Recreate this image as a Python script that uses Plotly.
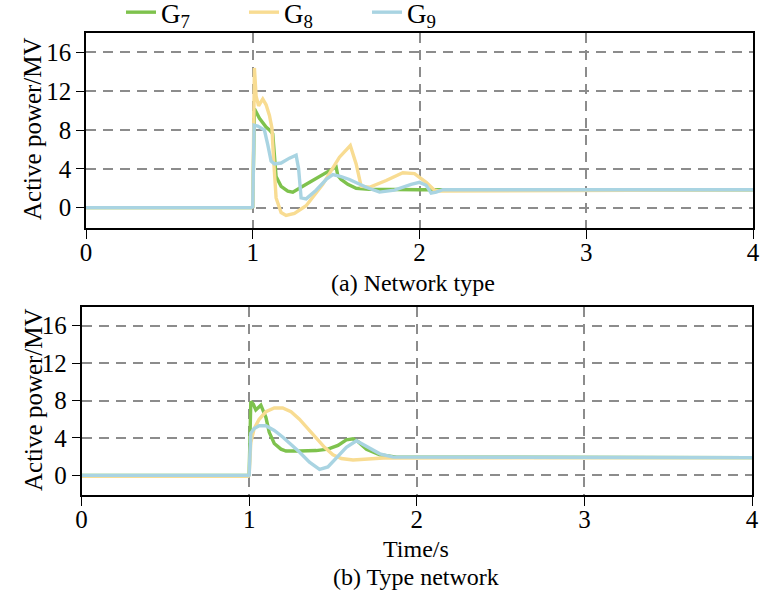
import plotly.graph_objects as go

# ---------------- data ----------------
# (a) Network type
a_g7_t = [0, 0.99, 1.0, 1.01, 1.04, 1.08, 1.10, 1.12, 1.14, 1.17, 1.21, 1.24, 1.30, 1.38, 1.45, 1.50, 1.51, 1.53, 1.57, 1.62, 1.70, 2.0, 4.0]
a_g7_v = [0, 0, 0.1, 10.2, 9.2, 8.3, 8.0, 7.6, 3.2, 2.2, 1.7, 1.6, 2.2, 3.0, 3.7, 4.2, 3.3, 2.9, 2.4, 2.0, 1.9, 1.85, 1.85]

a_g8_t = [0, 0.99, 1.0, 1.005, 1.01, 1.02, 1.035, 1.06, 1.08, 1.10, 1.115, 1.125, 1.14, 1.17, 1.20, 1.25, 1.32, 1.42, 1.52, 1.585, 1.62, 1.65, 1.70, 1.80, 1.90, 1.97, 2.04, 2.09, 2.12, 4.0]
a_g8_v = [0, 0, 0.1, 8.8, 14.4, 11.5, 10.5, 11.2, 10.6, 9.5, 8.2, 5.0, 1.0, -0.5, -0.8, -0.6, 0.2, 2.4, 5.2, 6.4, 4.5, 2.2, 2.1, 2.8, 3.6, 3.5, 2.6, 1.8, 1.7, 1.85]

a_g9_t = [0, 0.99, 1.0, 1.008, 1.03, 1.07, 1.09, 1.11, 1.13, 1.17, 1.22, 1.26, 1.275, 1.29, 1.32, 1.38, 1.44, 1.48, 1.53, 1.58, 1.68, 1.76, 1.85, 1.95, 2.0, 2.04, 2.07, 2.10, 2.14, 4.0]
a_g9_v = [0, 0, 0.1, 8.5, 8.4, 8.0, 6.5, 4.8, 4.5, 4.6, 5.1, 5.4, 4.0, 1.0, 0.9, 1.8, 2.9, 3.4, 3.2, 2.9, 2.1, 1.6, 1.8, 2.4, 2.6, 2.3, 1.5, 1.6, 1.85, 1.85]

# (b) Type network
b_g7_t = [0, 0.995, 1.0, 1.01, 1.025, 1.04, 1.07, 1.086, 1.10, 1.12, 1.15, 1.19, 1.22, 1.30, 1.40, 1.47, 1.53, 1.58, 1.62, 1.65, 1.70, 1.78, 1.88, 4.0]
b_g7_v = [0, 0, 0.1, 7.9, 7.6, 7.0, 7.5, 6.8, 6.2, 4.6, 3.4, 2.8, 2.6, 2.6, 2.65, 2.8, 3.2, 3.8, 3.9, 3.6, 2.8, 2.2, 1.95, 1.9]

b_g8_t = [0, 0.995, 1.0, 1.01, 1.03, 1.06, 1.10, 1.15, 1.20, 1.25, 1.30, 1.35, 1.40, 1.45, 1.50, 1.55, 1.62, 1.70, 1.80, 4.0]
b_g8_v = [-0.1, -0.1, 0, 3.5, 5.0, 6.0, 6.8, 7.2, 7.2, 6.8, 6.0, 5.0, 4.0, 3.0, 2.2, 1.8, 1.65, 1.7, 1.85, 1.9]

b_g9_t = [0, 0.995, 1.0, 1.01, 1.03, 1.06, 1.10, 1.15, 1.20, 1.25, 1.30, 1.36, 1.42, 1.47, 1.52, 1.58, 1.64, 1.70, 1.78, 1.86, 4.0]
b_g9_v = [0, 0, -0.1, 4.5, 5.0, 5.3, 5.3, 4.8, 4.1, 3.3, 2.5, 1.4, 0.65, 0.9, 1.9, 3.0, 3.7, 3.1, 2.3, 1.95, 1.9]

series_names = ["G<sub>7</sub>", "G<sub>8</sub>", "G<sub>9</sub>"]
series_colors = ["#7EC24D", "#F8DC92", "#A9D4E2"]

x_ticks = [0, 1, 2, 3, 4]
y_ticks = [0, 4, 8, 12, 16]
y_title = "Active power/MV"
caption_a = "(a) Network type"
caption_b = "(b) Type network"
x_title = "Time/s"

# ---------------- figure ----------------
FONT = "Liberation Serif"
fig = go.Figure()

top = [(a_g7_t, a_g7_v), (a_g8_t, a_g8_v), (a_g9_t, a_g9_v)]
bot = [(b_g7_t, b_g7_v), (b_g8_t, b_g8_v), (b_g9_t, b_g9_v)]

for i, (t, v) in enumerate(top):
    fig.add_trace(go.Scatter(x=t, y=v, mode="lines", name=series_names[i],
                             line=dict(color=series_colors[i], width=3.4),
                             xaxis="x", yaxis="y", showlegend=True))
for i, (t, v) in enumerate(bot):
    fig.add_trace(go.Scatter(x=t, y=v, mode="lines", name=series_names[i],
                             line=dict(color=series_colors[i], width=3.4),
                             xaxis="x2", yaxis="y2", showlegend=False))

W, H = 760, 594
def fx(p):
    return p / W
def fy(p):
    return 1 - p / H

grid = dict(showgrid=True, gridcolor="#8C8C8C", gridwidth=1.5, griddash="10px,7px")
frame = dict(showline=True, mirror=True, linecolor="black", linewidth=1.5, zeroline=False,
             automargin=False)
tickf = dict(family=FONT, size=25, color="black")

xcommon = dict(range=[0, 4], tickvals=x_ticks, ticks="outside", ticklen=9, tickwidth=1.3,
               tickcolor="black", tickfont=tickf, ticklabelstandoff=-8, **grid, **frame)
ycommon = dict(range=[-2.1, 18], tickvals=y_ticks, ticks="outside", ticklen=8, tickwidth=1.3,
               tickcolor="black", tickfont=tickf, ticklabelstandoff=0,
               **grid, **frame)

overlay_x = dict(range=[0, 4], tickvals=x_ticks, ticks="inside", ticklen=9, tickwidth=1.3,
                 tickcolor="black", showticklabels=False, showgrid=False, showline=False,
                 zeroline=False, automargin=False)

def note(text, px, py, angle=0, size=24):
    return dict(text=text, x=fx(px), y=fy(py), xref="paper", yref="paper",
                xanchor="center", yanchor="middle", textangle=angle, showarrow=False,
                font=dict(family=FONT, size=size, color="black"))

fig.update_layout(
    template="none",
    width=W, height=H,
    margin=dict(l=0, r=0, t=0, b=0, autoexpand=False),
    paper_bgcolor="white", plot_bgcolor="white",
    font=dict(family=FONT, size=24, color="black"),
    xaxis=dict(domain=[fx(86), fx(753)], anchor="y", **xcommon),
    yaxis=dict(domain=[fy(228), fy(33)], anchor="x", **ycommon),
    xaxis2=dict(domain=[fx(81.5), fx(752)], anchor="y2", **xcommon),
    yaxis2=dict(domain=[fy(495), fy(307)], anchor="x2", **ycommon),
    xaxis3=dict(overlaying="x", anchor="y", **overlay_x),
    xaxis4=dict(overlaying="x2", anchor="y2", **overlay_x),
    legend=dict(orientation="h", x=fx(121), y=1.02,
                xanchor="left", yanchor="top",
                entrywidth=78, entrywidthmode="pixels", bgcolor="rgba(0,0,0,0)",
                font=dict(family=FONT, size=27, color="black"), tracegroupgap=0,
                itemwidth=30),
    showlegend=True,
    annotations=[
        note(y_title, 33, 129, angle=-90, size=25),
        note(y_title, 33, 400, angle=-90, size=25),
        note(caption_a, 413, 283),
        note(x_title, 416, 549),
        note(caption_b, 416, 577),
    ],
)

fig.write_html("out.html", config={"displayModeBar": False},
               post_script="document.body.style.margin='0px';document.body.style.padding='0px';")
